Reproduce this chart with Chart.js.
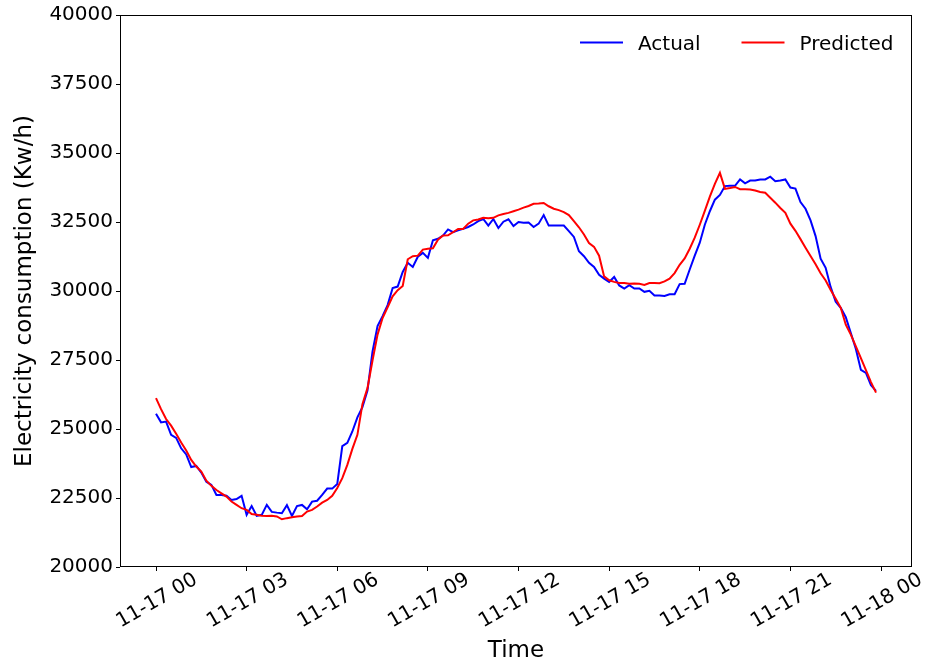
<!DOCTYPE html>
<html>
<head>
<meta charset="utf-8">
<script src="https://cdn.jsdelivr.net/npm/chart.js@4.4.1/dist/chart.umd.min.js"></script>
<style>
  html, body { margin: 0; padding: 0; background: #ffffff; }
  #wrap { width: 936px; height: 665px; }
</style>
</head>
<body>
<div id="wrap"><canvas id="c" width="936" height="665"></canvas></div>
<script>
// ---- data (10-minute samples, 2017-11-17 00:00 .. 23:50) ----
const stepMinutes = 10;
const actual = [
  25550, 25240, 25270, 24790, 24680, 24300,
  24080, 23620, 23660, 23420, 23090, 22975,
  22610, 22610, 22580, 22430, 22460, 22580,
  21890, 22210, 21850, 21890, 22250, 21995,
  21970, 21950, 22240, 21850, 22210, 22250,
  22090, 22370, 22400, 22610, 22840, 22840,
  23010, 24380, 24500, 24910, 25420, 25790,
  26390, 27800, 28730, 29090, 29490, 30110,
  30160, 30690, 31020, 30870, 31240, 31380,
  31200, 31840, 31890, 32010, 32230, 32130,
  32200, 32250, 32320, 32410, 32530, 32610,
  32370, 32610, 32280, 32510, 32600, 32350,
  32500, 32470, 32480, 32320, 32440, 32750,
  32370, 32370, 32370, 32370, 32170, 31960,
  31440, 31260, 31020, 30870, 30590, 30450,
  30330, 30510, 30200, 30090, 30210, 30090,
  30090, 29970, 30010, 29840, 29840, 29820,
  29880, 29880, 30250, 30260, 30780, 31280,
  31750, 32400, 32890, 33310, 33480, 33800,
  33810, 33810, 34040, 33900, 34000, 34000,
  34040, 34040, 34140, 33980, 34000, 34040,
  33750, 33710, 33220, 32980, 32560, 31990,
  31170, 30840, 30140, 29610, 29390, 29050,
  28480, 27900, 27140, 27030, 26590, 26380
];
const predicted = [
  26120, 25720, 25360, 25120, 24830, 24510,
  24220, 23880, 23640, 23460, 23130, 22940,
  22790, 22670, 22550, 22370, 22250, 22130,
  22070, 21920, 21890, 21860, 21850, 21860,
  21830, 21730, 21770, 21800, 21830, 21850,
  22010, 22070, 22190, 22330, 22430, 22580,
  22860, 23220, 23700, 24280, 24790, 25900,
  26480, 27480, 28420, 29020, 29410, 29810,
  30030, 30180, 31150, 31260, 31280, 31500,
  31530, 31550, 31860, 32010, 32020, 32130,
  32250, 32250, 32440, 32560, 32590, 32650,
  32640, 32650, 32740, 32790, 32830, 32890,
  32950, 33020, 33080, 33160, 33170, 33190,
  33070, 32980, 32930, 32860, 32750, 32530,
  32310, 32050, 31740, 31600, 31280, 30530,
  30390, 30330, 30290, 30290, 30260, 30270,
  30260, 30220, 30290, 30290, 30280, 30350,
  30450, 30650, 30950, 31180, 31530, 31930,
  32400, 32900, 33420, 33880, 34280, 33700,
  33730, 33770, 33690, 33690, 33680, 33640,
  33590, 33560, 33380, 33200, 33010, 32830,
  32440, 32180, 31880, 31570, 31270, 30970,
  30640, 30380, 30040, 29720, 29390, 28780,
  28420, 27990, 27570, 27130, 26700, 26320
];
const xTickHours = [0, 3, 6, 9, 12, 15, 18, 21, 24];
const xTickLabels = ['11-17 00', '11-17 03', '11-17 06', '11-17 09', '11-17 12',
                     '11-17 15', '11-17 18', '11-17 21', '11-18 00'];
const yTicks = [20000, 22500, 25000, 27500, 30000, 32500, 35000, 37500, 40000];
const seriesNames = ['Actual', 'Predicted'];
const xTitle = 'Time';
const yTitle = 'Electricity consumption (Kw/h)';

// ---- build ----
const toPoints = arr => arr.map((v, i) => ({ x: i * stepMinutes / 60, y: v }));
const lastHour = (actual.length - 1) * stepMinutes / 60;
const margin = lastHour * 0.05;

const FONT = '"DejaVu Sans", "Liberation Sans", sans-serif';
Chart.defaults.font.family = FONT;
Chart.defaults.color = '#000000';

const spinePlugin = {
  id: 'spines',
  afterDatasetsDraw(chart) {
    const a = chart.chartArea, ctx = chart.ctx;
    ctx.save();
    ctx.strokeStyle = '#000000';
    ctx.lineWidth = 1;
    ctx.strokeRect(Math.round(a.left) + 0.5, Math.round(a.top) + 0.5,
                   Math.round(a.right - a.left) - 1, Math.round(a.bottom - a.top) - 1);
    ctx.restore();
  }
};

const legendPlugin = {
  id: 'mplLegend',
  afterDraw(chart) {
    const a = chart.chartArea, ctx = chart.ctx;
    const starts = [a.right - 332, a.right - 170.5];
    const lineLen = 43, gap = 15;
    const lineY = a.top + 27.5, textY = a.top + 35;
    ctx.save();
    ctx.font = '20px ' + FONT;
    ctx.textBaseline = 'alphabetic';
    ctx.textAlign = 'left';
    chart.data.datasets.forEach((ds, i) => {
      ctx.strokeStyle = ds.borderColor;
      ctx.lineWidth = ds.borderWidth;
      ctx.beginPath();
      ctx.moveTo(starts[i], lineY);
      ctx.lineTo(starts[i] + lineLen, lineY);
      ctx.stroke();
      ctx.fillStyle = '#000000';
      ctx.fillText(ds.label, starts[i] + lineLen + gap, textY);
    });
    ctx.restore();
  }
};

new Chart(document.getElementById('c'), {
  type: 'line',
  data: {
    datasets: [
      { label: seriesNames[0], data: toPoints(actual), borderColor: '#0000ff',
        borderWidth: 2, pointRadius: 0, tension: 0, fill: false, order: 1 },
      { label: seriesNames[1], data: toPoints(predicted), borderColor: '#ff0000',
        borderWidth: 2, pointRadius: 0, tension: 0, fill: false, order: 0 }
    ]
  },
  options: {
    responsive: false,
    animation: false,
    devicePixelRatio: 1,
    layout: { padding: { top: 15, right: 24, bottom: 0, left: 0 } },
    plugins: { legend: { display: false }, tooltip: { enabled: false } },
    scales: {
      x: {
        type: 'linear',
        min: -margin,
        max: lastHour + margin,
        afterBuildTicks: s => { s.ticks = xTickHours.map(v => ({ value: v })); },
        afterFit: s => { s.height = 98; s.paddingLeft = 0; s.paddingRight = 0; },
        grid: { display: true, drawOnChartArea: false, drawTicks: true, tickLength: 4,
                tickColor: '#000000', tickWidth: 1 },
        border: { display: false },
        ticks: {
          autoSkip: false, minRotation: 30, maxRotation: 30,
          labelOffset: 40, padding: -3,
          font: { size: 20, family: FONT }, color: '#000000',
          callback: v => { const i = xTickHours.indexOf(v); return i >= 0 ? xTickLabels[i] : ''; }
        },
        title: { display: true, text: xTitle, font: { size: 23, family: FONT }, color: '#000000',
                 padding: { top: 0, bottom: 0 } }
      },
      y: {
        type: 'linear',
        min: yTicks[0],
        max: yTicks[yTicks.length - 1],
        afterBuildTicks: s => { s.ticks = yTicks.map(v => ({ value: v })); },
        afterFit: s => { s.width = 120; s.paddingTop = 0; s.paddingBottom = 0; },
        grid: { display: true, drawOnChartArea: false, drawTicks: true, tickLength: 4,
                tickColor: '#000000', tickWidth: 1 },
        border: { display: false },
        ticks: {
          padding: 3,
          font: { size: 20, family: FONT }, color: '#000000',
          callback: v => String(v)
        },
        title: { display: true, text: yTitle, font: { size: 23, family: FONT }, color: '#000000',
                 padding: { top: 11, bottom: 0 } }
      }
    }
  },
  plugins: [spinePlugin, legendPlugin]
});
</script>
</body>
</html>
